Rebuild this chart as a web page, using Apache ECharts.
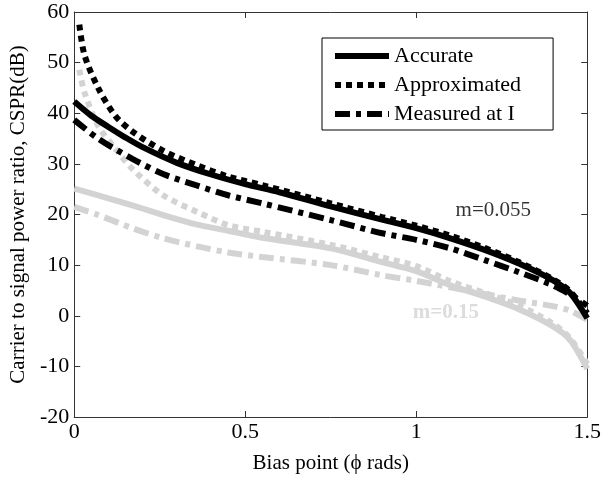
<!DOCTYPE html>
<html>
<head>
<meta charset="utf-8">
<script src="https://cdn.jsdelivr.net/npm/echarts@6/dist/echarts.min.js"></script>
<style>
  html, body { margin: 0; padding: 0; background: #fff; }
  #chart { width: 604px; height: 479px; }
</style>
</head>
<body>
<div id="chart"></div>
<script>
  // bias point (rad) and CSPR (dB)
  var phiAcc055 = [0, 0.05, 0.1, 0.15, 0.2, 0.3, 0.4, 0.5, 0.6, 0.75, 0.9, 1.0, 1.1, 1.2, 1.3, 1.4, 1.45, 1.5];
  var acc055 = [42.3, 39.5, 37.3, 35.2, 33.3, 30.2, 27.9, 26.0, 24.4, 21.6, 19.0, 17.3, 15.3, 13.0, 10.3, 7.0, 4.5, -0.5];

  var phiApp055 = [0.015, 0.03, 0.07, 0.12, 0.17, 0.26, 0.36, 0.45, 0.55, 0.75, 0.9, 1.0, 1.1, 1.2, 1.3, 1.4, 1.45, 1.5];
  var app055 = [57.5, 51.5, 45.0, 39.5, 36.4, 32.6, 29.7, 27.5, 25.8, 22.2, 19.5, 17.8, 15.8, 13.4, 10.6, 7.2, 4.8, 0.5];

  var phiMea055 = [0, 0.07, 0.17, 0.26, 0.36, 0.45, 0.55, 0.75, 0.9, 1.0, 1.1, 1.2, 1.3, 1.4, 1.45, 1.5];
  var mea055 = [38.7, 35.0, 31.0, 28.0, 25.7, 23.8, 22.2, 18.9, 16.3, 15.0, 13.3, 11.0, 8.6, 6.0, 4.2, 2.0];

  var phiAcc15 = [0, 0.07, 0.17, 0.26, 0.36, 0.45, 0.55, 0.75, 0.9, 1.0, 1.1, 1.2, 1.3, 1.4, 1.45, 1.5];
  var acc15 = [25.1, 23.8, 21.8, 19.9, 18.0, 16.8, 15.4, 13.3, 10.6, 8.8, 6.0, 3.8, 1.3, -2.1, -4.8, -10.5];

  var phiApp15 = [0.015, 0.03, 0.07, 0.12, 0.17, 0.26, 0.36, 0.45, 0.55, 0.75, 0.9, 1.0, 1.1, 1.2, 1.3, 1.4, 1.45, 1.5];
  var app15 = [48.6, 44.1, 37.5, 33.0, 29.0, 23.8, 20.5, 17.9, 16.6, 14.0, 11.5, 9.8, 6.8, 4.5, 2.0, -1.6, -4.5, -9.5];

  var phiMea15 = [0, 0.07, 0.17, 0.26, 0.36, 0.45, 0.55, 0.75, 0.9, 1.0, 1.1, 1.2, 1.3, 1.4, 1.45, 1.5];
  var mea15 = [21.5, 19.9, 17.3, 15.3, 13.7, 12.5, 11.6, 10.0, 8.0, 6.9, 5.6, 4.3, 3.0, 1.9, 1.0, -0.8];

  var seriesNames = ['Accurate', 'Approximated', 'Measured at I'];
  var xTicks = ['0', '0.5', '1', '1.5'];

  function pairs (xs, ys) {
    return xs.map(function (x, i) { return [x, ys[i]]; });
  }

  var font = 'Liberation Serif';
  var grey = '#d3d3d3';
  var dotDash = [6, 5];
  var dashDot = [15, 6, 5, 6];

  function line (name, xs, ys, color, dash) {
    return {
      name: name,
      type: 'line',
      data: pairs(xs, ys),
      smooth: 0.3,
      showSymbol: false,
      symbol: 'none',
      silent: true,
      lineStyle: { color: color, width: 6, type: dash || 'solid', cap: 'butt' },
      itemStyle: { color: color }
    };
  }

  var myChart = echarts.init(document.getElementById('chart'));
  myChart.setOption({
    animation: false,
    textStyle: { fontFamily: font },
    grid: { left: 68, right: 12, top: 12, bottom: 59 },
    legend: {
      data: seriesNames,
      orient: 'vertical',
      left: 322,
      top: 38,
      itemWidth: 54,
      itemHeight: 14,
      itemGap: 7,
      padding: [7, 32, 5, 10],
      borderColor: '#000',
      borderWidth: 1,
      borderRadius: 0,
      itemStyle: { opacity: 0 },
      lineStyle: { width: 6 },
      textStyle: { fontFamily: font, fontSize: 22, color: '#000' }
    },
    xAxis: [{
      type: 'value',
      min: 0,
      max: 1.5,
      interval: 0.5,
      name: 'Bias point (\u03d5 rads)',
      nameLocation: 'middle',
      nameGap: 36,
      nameTextStyle: { fontFamily: font, fontSize: 21, color: '#000' },
      axisLine: { onZero: false, lineStyle: { color: '#333' } },
      axisTick: { inside: true, length: 6, lineStyle: { color: '#333' } },
      axisLabel: {
        fontFamily: font, fontSize: 22, color: '#000', margin: 4,
        formatter: function (v) { return xTicks[Math.round(v / 0.5)]; }
      },
      splitLine: { show: false }
    }, {
      type: 'value',
      position: 'top',
      min: 0,
      max: 1.5,
      interval: 0.5,
      axisLine: { onZero: false, lineStyle: { color: '#333' } },
      axisTick: { inside: true, length: 6, lineStyle: { color: '#333' } },
      axisLabel: { show: false },
      splitLine: { show: false }
    }],
    yAxis: [{
      type: 'value',
      min: -20,
      max: 60,
      interval: 10,
      name: 'Carrier to signal power ratio, CSPR(dB)',
      nameLocation: 'middle',
      nameGap: 45,
      nameTextStyle: { fontFamily: font, fontSize: 21, color: '#000' },
      axisLine: { show: true, onZero: false, lineStyle: { color: '#333' } },
      axisTick: { show: true, inside: true, length: 6, lineStyle: { color: '#333' } },
      axisLabel: { fontFamily: font, fontSize: 22, color: '#000', margin: 5 },
      splitLine: { show: false }
    }, {
      type: 'value',
      position: 'right',
      min: -20,
      max: 60,
      interval: 10,
      axisLine: { show: true, onZero: false, lineStyle: { color: '#333' } },
      axisTick: { show: true, inside: true, length: 6, lineStyle: { color: '#333' } },
      axisLabel: { show: false },
      splitLine: { show: false }
    }],
    series: [
      line('m015a', phiAcc15, acc15, grey),
      line('m015b', phiApp15, app15, grey, dotDash),
      line('m015c', phiMea15, mea15, grey, dashDot),
      line(seriesNames[0], phiAcc055, acc055, '#000'),
      line(seriesNames[1], phiApp055, app055, '#000', dotDash),
      line(seriesNames[2], phiMea055, mea055, '#000', dashDot),
      {
        type: 'scatter',
        symbolSize: 0,
        silent: true,
        data: [[1.115, 20.8]],
        label: {
          show: true, position: 'right', distance: 0,
          formatter: 'm=0.055',
          fontFamily: font, fontSize: 21, color: '#000'
        }
      },
      {
        type: 'scatter',
        symbolSize: 0,
        silent: true,
        data: [[0.99, 0.6]],
        label: {
          show: true, position: 'right', distance: 0,
          formatter: 'm=0.15',
          fontFamily: font, fontSize: 21, fontWeight: 'bold', color: grey
        }
      }
    ]
  });
</script>
</body>
</html>
